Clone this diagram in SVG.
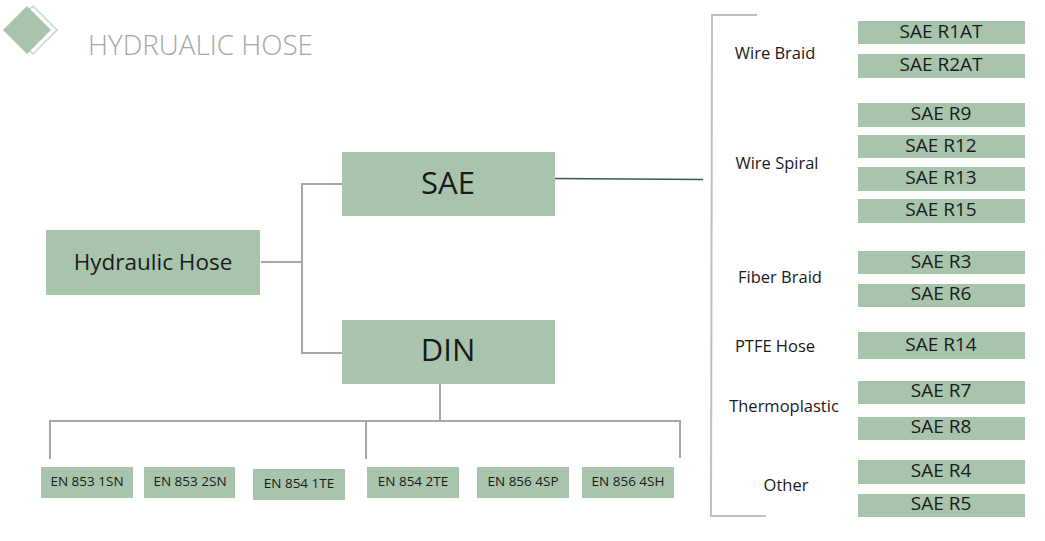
<svg xmlns="http://www.w3.org/2000/svg" width="1045" height="541" viewBox="0 0 1045 541">
<style>
.box{fill:#a9c4ad;}
.t{font-family:"Open Sans","Noto Sans","Liberation Sans",sans-serif;fill:#1a1a1a;text-anchor:middle;}
.lbl{font-family:"Open Sans","Noto Sans","Liberation Sans",sans-serif;fill:#1a1a1a;font-size:16.5px;text-anchor:middle;}
.r{font-size:19px;}
.en{font-size:13.5px;}
.ln{stroke:#a6a6a6;stroke-width:2;fill:none;}
.br{stroke:#bfbfbf;stroke-width:2;fill:none;}
</style>
<rect width="1045" height="541" fill="#ffffff"/>
<g id="logo">
<polygon points="33,6 57,30 33,54 9,30" fill="#ffffff" stroke="#c8d8cb" stroke-width="1.5"/>
<polygon points="27,6 51,30 27,54 3,30" fill="#a9c4ad"/>
<text x="88" y="55" font-family="'Open Sans','Noto Sans','Liberation Sans',sans-serif" font-weight="300" font-size="27.8" fill="#a6a6a6">HYDRUALIC HOSE</text>
</g>
<g id="connectors">
<polyline class="ln" points="261,262 302,262"/>
<polyline class="ln" points="342,184 302,184 302,353 342,353"/>
<line x1="553" y1="178.5" x2="703" y2="179.5" stroke="#3e5555" stroke-width="1.3"/>
<polyline class="br" points="757,15 712,15 711,516 766,516"/>
<line class="ln" x1="440" y1="384" x2="440" y2="421"/>
<polyline class="ln" points="50,459 50,421 680,421 680,458"/>
<line class="ln" x1="366" y1="421" x2="366" y2="459"/>
</g>
<g id="hydraulic-hose"><rect class="box" x="46" y="230" width="214" height="65"/><text class="t" x="153" y="270" font-size="22.5">Hydraulic Hose</text></g>
<g id="sae"><rect class="box" x="342" y="152" width="213" height="64"/><text class="t" x="448" y="194" font-size="31">SAE</text></g>
<g id="din"><rect class="box" x="342" y="320" width="213" height="64"/><text class="t" x="448" y="361" font-size="31">DIN</text></g>
<g id="label-wire-braid"><text class="lbl" x="775" y="59">Wire Braid</text></g>
<g id="label-wire-spiral"><text class="lbl" x="777" y="169">Wire Spiral</text></g>
<g id="label-fiber-braid"><text class="lbl" x="780" y="283">Fiber Braid</text></g>
<g id="label-ptfe"><text class="lbl" x="775" y="352">PTFE Hose</text></g>
<g id="label-thermoplastic"><text class="lbl" x="784" y="412">Thermoplastic</text></g>
<g id="label-other"><text class="lbl" x="786" y="491">Other</text></g>
<g id="sae-r1at"><rect class="box" x="858" y="21" width="167" height="23"/><text class="t r" x="941" y="38">SAE R1AT</text></g>
<g id="sae-r2at"><rect class="box" x="858" y="54" width="167" height="24"/><text class="t r" x="941" y="71">SAE R2AT</text></g>
<g id="sae-r9"><rect class="box" x="858" y="103" width="167" height="24"/><text class="t r" x="941" y="120">SAE R9</text></g>
<g id="sae-r12"><rect class="box" x="858" y="135" width="167" height="23"/><text class="t r" x="941" y="152">SAE R12</text></g>
<g id="sae-r13"><rect class="box" x="858" y="167" width="167" height="24"/><text class="t r" x="941" y="184">SAE R13</text></g>
<g id="sae-r15"><rect class="box" x="858" y="199" width="167" height="24"/><text class="t r" x="941" y="216">SAE R15</text></g>
<g id="sae-r3"><rect class="box" x="858" y="251" width="167" height="23"/><text class="t r" x="941" y="268">SAE R3</text></g>
<g id="sae-r6"><rect class="box" x="858" y="284" width="167" height="23"/><text class="t r" x="941" y="300">SAE R6</text></g>
<g id="sae-r14"><rect class="box" x="858" y="332" width="167" height="27"/><text class="t r" x="941" y="351">SAE R14</text></g>
<g id="sae-r7"><rect class="box" x="858" y="381" width="167" height="23"/><text class="t r" x="941" y="397">SAE R7</text></g>
<g id="sae-r8"><rect class="box" x="858" y="417" width="167" height="23"/><text class="t r" x="941" y="433">SAE R8</text></g>
<g id="sae-r4"><rect class="box" x="858" y="460" width="167" height="24"/><text class="t r" x="941" y="477">SAE R4</text></g>
<g id="sae-r5"><rect class="box" x="858" y="494" width="167" height="23"/><text class="t r" x="941" y="510">SAE R5</text></g>
<g id="en853-1sn"><rect class="box" x="41" y="467" width="92" height="31"/><text class="t en" x="87" y="486">EN 853 1SN</text></g>
<g id="en853-2sn"><rect class="box" x="144" y="467" width="91" height="31"/><text class="t en" x="190" y="486">EN 853 2SN</text></g>
<g id="en854-1te"><rect class="box" x="253" y="469" width="92" height="31"/><text class="t en" x="299" y="488">EN 854 1TE</text></g>
<g id="en854-2te"><rect class="box" x="367" y="467" width="92" height="31"/><text class="t en" x="413" y="486">EN 854 2TE</text></g>
<g id="en856-4sp"><rect class="box" x="477" y="467" width="92" height="31"/><text class="t en" x="523" y="486">EN 856 4SP</text></g>
<g id="en856-4sh"><rect class="box" x="582" y="467" width="92" height="31"/><text class="t en" x="628" y="486">EN 856 4SH</text></g>
</svg>
